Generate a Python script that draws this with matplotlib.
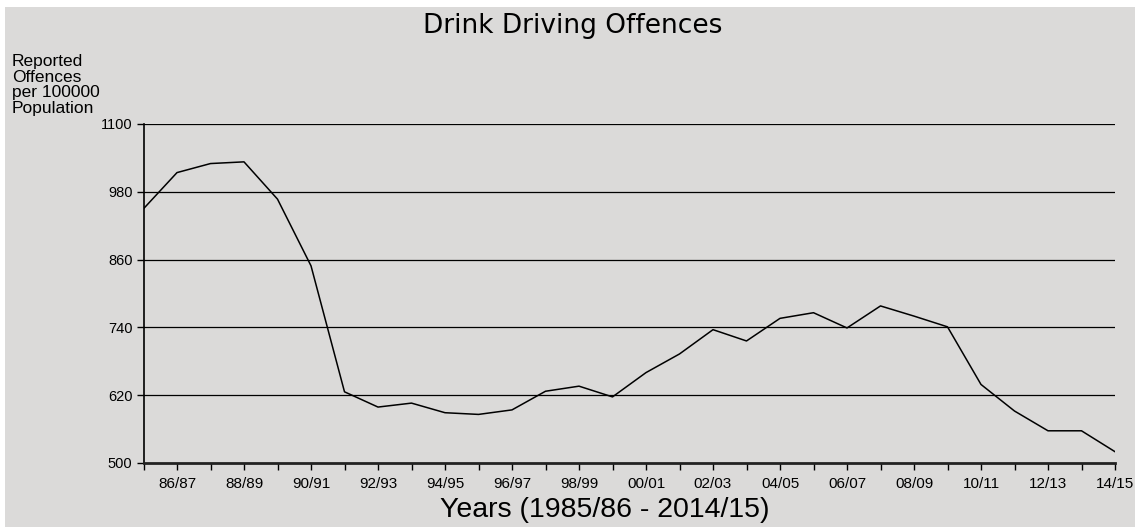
import matplotlib
matplotlib.use('Agg')
import matplotlib.pyplot as plt
from matplotlib.patches import Rectangle

# financial years 1985/86 .. 2014/15
years = ['85/86', '86/87', '87/88', '88/89', '89/90', '90/91', '91/92', '92/93',
         '93/94', '94/95', '95/96', '96/97', '97/98', '98/99', '99/00', '00/01',
         '01/02', '02/03', '03/04', '04/05', '05/06', '06/07', '07/08', '08/09',
         '09/10', '10/11', '11/12', '12/13', '13/14', '14/15']
offences = [950, 1014, 1030, 1033, 967, 849, 626, 599, 606, 589,
            586, 594, 627, 636, 617, 660, 693, 736, 716, 756,
            766, 739, 778, 760, 741, 639, 592, 557, 557, 520]

y_ticks = [500, 620, 740, 860, 980, 1100]

W, H = 1137, 529
bg = '#dbdad9'
fig = plt.figure(figsize=(W / 100, H / 100), dpi=100, facecolor='white')
# grey panel with a thin white margin round it (drawn beneath the axes)
fig.patches.append(Rectangle((5 / W, 2 / H), (W - 7) / W, (H - 9) / H,
                             transform=fig.transFigure, facecolor=bg,
                             edgecolor='none', zorder=-10))

ax = fig.add_axes([143.5 / W, 1 - 463 / H, (1115 - 143.5) / W, (463 - 124) / H])
ax.set_facecolor(bg)

x = list(range(len(years)))
ax.plot(x, offences, color='black', lw=1.1, zorder=3)

ax.set_xlim(0, len(years) - 1)
ax.set_ylim(500, 1100)
ax.set_yticks(y_ticks)
ax.set_yticklabels([str(v) for v in y_ticks], fontsize=10.5, family='Liberation Sans')
ax.set_xticks(x)
ax.set_xticklabels([y if i % 2 == 1 else '' for i, y in enumerate(years)],
                   fontsize=11, family='Liberation Sans')
ax.tick_params(axis='both', direction='out', length=5, width=1, color='black', pad=3)
ax.tick_params(axis='x', pad=5)

for v in y_ticks[1:]:
    ax.axhline(v, color='black', lw=0.9, zorder=1)

ax.spines['right'].set_visible(False)
ax.spines['top'].set_visible(False)
ax.spines['left'].set_linewidth(1.2)
ax.spines['bottom'].set_linewidth(2)
ax.spines['bottom'].set_color('#222222')

fig.text(573 / W, 1 - 26 / H, 'Drink Driving Offences', ha='center', va='center',
         fontsize=19, family='DejaVu Sans')
fig.text(12 / W, 1 - 54 / H, 'Reported\nOffences\nper 100000\nPopulation',
         ha='left', va='top', fontsize=12.5, family='Liberation Sans', linespacing=1.05)
fig.text(605 / W, 1 - 510 / H, 'Years (1985/86 - 2014/15)', ha='center', va='center',
         fontsize=20.5, family='Liberation Sans')

fig.savefig('out.png', dpi=100, facecolor='white')
